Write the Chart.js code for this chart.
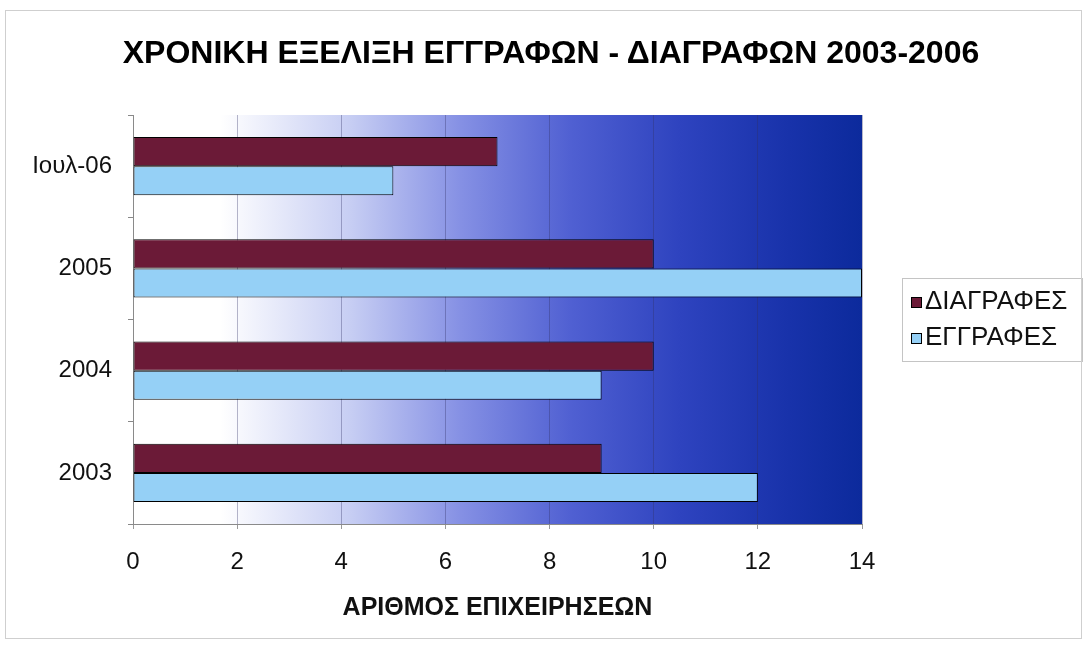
<!DOCTYPE html>
<html>
<head>
<meta charset="utf-8">
<script src="https://cdn.jsdelivr.net/npm/chart.js@4.4.1/dist/chart.umd.min.js"></script>
<style>
  html, body { margin: 0; padding: 0; background: #ffffff; }
  #wrap { position: relative; width: 1088px; height: 648px; overflow: hidden; background: #fff; }
  #frame { position: absolute; left: 5px; top: 10px; width: 1077px; height: 629px; border: 1px solid #cfcfcf; box-sizing: border-box; pointer-events: none; }
  #title { position: absolute; left: 0; top: 34px; width: 1102px; text-align: center; font: bold 32px "Liberation Sans", Arial, sans-serif; color: #000; white-space: nowrap; }
  #legend { position: absolute; left: 902px; top: 278px; width: 181px; height: 84px; border: 1px solid #c4c4c4; box-sizing: border-box; font: 26px "Liberation Sans", Arial, sans-serif; color: #111; }
  .li { position: absolute; left: 8px; height: 30px; line-height: 30px; white-space: nowrap; }
  .sw { display: inline-block; width: 9px; height: 9px; border: 1px solid #000; margin-right: 3px; vertical-align: 1px; }
  canvas { position: absolute; left: 0; top: 0; }
</style>
</head>
<body>
<div id="wrap">
  <canvas id="c" width="1088" height="648"></canvas>
  <div id="title"></div>
  <div id="legend"></div>
  <div id="frame"></div>
</div>
<script>
const chartTitle = "ΧΡΟΝΙΚΗ ΕΞΕΛΙΞΗ ΕΓΓΡΑΦΩΝ - ΔΙΑΓΡΑΦΩΝ 2003-2006";
const xAxisTitle = "ΑΡΙΘΜΟΣ ΕΠΙΧΕΙΡΗΣΕΩΝ";
const categories = ["Ιουλ-06", "2005", "2004", "2003"];
const seriesNames = ["ΔΙΑΓΡΑΦΕΣ", "ΕΓΓΡΑΦΕΣ"];
const deletions = [7, 10, 10, 9];
const registrations = [5, 14, 9, 12];
const seriesColors = ["#6b1a37", "#95d0f6"];

document.getElementById('title').textContent = chartTitle;
const leg = document.getElementById('legend');
seriesNames.forEach((n, i) => {
  const d = document.createElement('div');
  d.className = 'li';
  d.style.top = (i === 0 ? 6 : 42) + 'px';
  d.innerHTML = '<span class="sw" style="background:' + seriesColors[i] + '"></span>' + n;
  leg.appendChild(d);
});

const plotBg = {
  id: 'plotBg',
  beforeDraw(chart) {
    const { ctx, chartArea: a } = chart;
    const g = ctx.createLinearGradient(a.left, 0, a.right, 0);
    g.addColorStop(0, '#ffffff');
    g.addColorStop(0.12, '#ffffff');
    g.addColorStop(0.3, '#c6cdf3');
    g.addColorStop(0.45, '#8590e4');
    g.addColorStop(0.6, '#5060d2');
    g.addColorStop(0.75, '#2e43bf');
    g.addColorStop(0.9, '#1832aa');
    g.addColorStop(1, '#0c2a9c');
    ctx.save();
    ctx.fillStyle = g;
    ctx.fillRect(a.left, a.top, a.right - a.left, a.bottom - a.top);
    ctx.restore();
  }
};

const font = { family: '"Liberation Sans", Arial, sans-serif', size: 24 };

new Chart(document.getElementById('c'), {
  type: 'bar',
  data: {
    labels: categories,
    datasets: [
      { label: seriesNames[0], data: deletions, backgroundColor: seriesColors[0], borderColor: '#000', borderWidth: 1, borderSkipped: false },
      { label: seriesNames[1], data: registrations, backgroundColor: seriesColors[1], borderColor: '#000', borderWidth: 1, borderSkipped: false }
    ]
  },
  options: {
    indexAxis: 'y',
    responsive: false,
    animation: false,
    devicePixelRatio: 1,
    layout: { padding: { top: 115, right: 226, bottom: 0, left: 0 } },
    datasets: { bar: { categoryPercentage: 0.57, barPercentage: 1.0 } },
    plugins: { legend: { display: false }, title: { display: false }, tooltip: { enabled: false } },
    scales: {
      x: {
        min: 0, max: 14,
        ticks: { stepSize: 2, color: '#111', font: font, padding: 19 },
        grid: { color: 'rgba(50,50,100,0.35)', lineWidth: 1, tickLength: 5, tickColor: '#999', drawTicks: true },
        border: { display: true, color: '#8a8a8a', width: 1 },
        title: { display: true, text: xAxisTitle, color: '#111', font: { family: font.family, size: 25, weight: 'bold' }, padding: { top: 0, bottom: 25 } },
        afterFit(s) { s.height = 124; }
      },
      y: {
        offset: true,
        ticks: { color: '#111', font: font, padding: 16 },
        grid: { offset: true, drawOnChartArea: false, drawTicks: true, tickLength: 5, tickColor: '#888' },
        border: { display: true, color: '#8a8a8a', width: 1 },
        afterFit(s) { s.width = 133; }
      }
    }
  },
  plugins: [plotBg]
});
</script>
</body>
</html>
